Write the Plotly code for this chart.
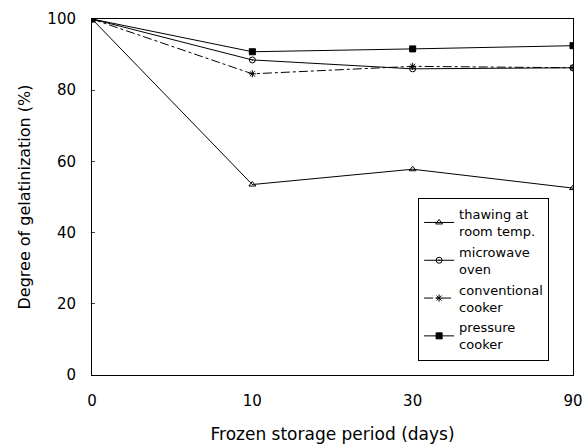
import plotly.graph_objects as go

days = ["0", "10", "30", "90"]
thawing = [100, 53.5, 57.8, 52.5]
microwave = [100, 88.5, 86.0, 86.3]
conventional = [100, 84.6, 86.7, 86.3]
pressure = [100, 90.8, 91.6, 92.5]

names = ["thawing at<br>room temp.", "microwave<br>oven", "conventional<br>cooker", "pressure<br>cooker"]
series = [thawing, microwave, conventional, pressure]
symbols = ["triangle-up-open", "circle-open-dot", "asterisk-open", "square-x"]
dashes = ["solid", "solid", "dashdot", "solid"]

FONT = "DejaVu Sans"

fig = go.Figure()
for i, (n, s, sym, d) in enumerate(zip(names, series, symbols, dashes)):
    fig.add_trace(go.Scatter(
        x=days, y=s, name=n, mode="lines+markers", legendgroup=f"g{i}",
        line=dict(color="black", width=1, dash=d),
        marker=dict(symbol=sym, size=6, color="black", line=dict(color="black", width=1)),
    ))

fig.update_layout(
    width=588, height=446,
    margin=dict(l=92, r=15, t=19, b=71),
    paper_bgcolor="white", plot_bgcolor="white",
    font=dict(family=FONT, size=14, color="black"),
    showlegend=True,
    legend=dict(x=0.678, y=0.497, xanchor="left", yanchor="top",
                bgcolor="white", bordercolor="black", borderwidth=1,
                font=dict(family=FONT, size=13), tracegroupgap=1),
    xaxis=dict(type="category", range=[0, 3], showline=True, linecolor="black",
               linewidth=1, mirror=True, ticks="", showgrid=False, zeroline=False,
               ticklabelstandoff=12, automargin=False,
               title=dict(text="Frozen storage period (days)", standoff=19,
                          font=dict(family=FONT, size=17)),
               tickfont=dict(family=FONT, size=15)),
    yaxis=dict(range=[0, 100], tickvals=[0, 20, 40, 60, 80, 100], showline=True,
               linecolor="black", linewidth=1, mirror=True, ticks="inside", ticklen=3,
               ticklabelstandoff=12, automargin=False,
               showgrid=False, zeroline=False,
               title=dict(text="Degree of gelatinization (%)", standoff=12,
                          font=dict(family=FONT, size=16)),
               tickfont=dict(family=FONT, size=15)),
)

fig.write_html("out.html")
